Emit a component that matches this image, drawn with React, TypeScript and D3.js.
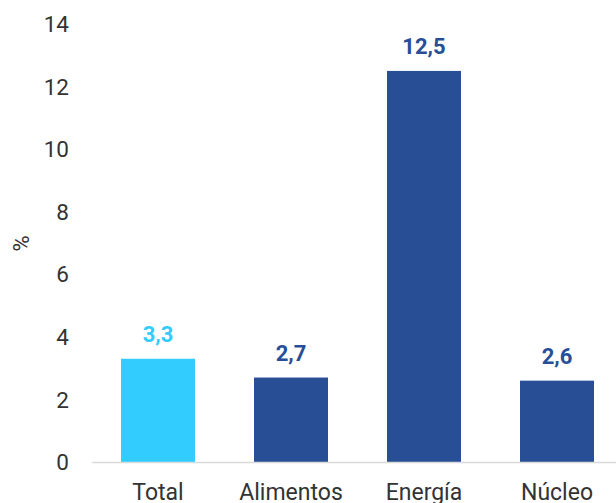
import React from "react";
import * as d3 from "d3";

const categories = ["Total", "Alimentos", "Energía", "Núcleo"];
const values = [3.3, 2.7, 12.5, 2.6];
const valueLabels = ["3,3", "2,7", "12,5", "2,6"];
const barColors = ["#33CCFF", "#284F96", "#284F96", "#284F96"];
const yTicks = [0, 2, 4, 6, 8, 10, 12, 14];

const W = 616;
const H = 503;
const FONT = "Roboto, 'Noto Sans', sans-serif";

export default function App() {
  const y = d3.scaleLinear().domain([0, 14]).range([462, 24]);
  const x = d3
    .scaleBand<string>()
    .domain(categories)
    .range([91.5, 623.5])
    .paddingInner(0.4436)
    .paddingOuter(0.2218);

  return (
    <svg
      width={W}
      height={H}
      style={{ position: "absolute", left: 0, top: 0, background: "#fff" }}
      fontFamily={FONT}
    >
      {yTicks.map((t) => (
        <text
          key={t}
          x={69}
          y={y(t)}
          dy="0.36em"
          textAnchor="end"
          fontSize={22.5}
          fill="#333333"
        >
          {t}
        </text>
      ))}
      <text
        transform={`translate(28.5,243.5) rotate(-90)`}
        textAnchor="middle"
        fontSize={22}
        fill="#333333"
      >
        %
      </text>
      {categories.map((c, i) => (
        <rect
          key={c}
          x={x(c)}
          y={y(values[i])}
          width={x.bandwidth()}
          height={y(0) - y(values[i])}
          fill={barColors[i]}
        />
      ))}
      <line x1={92} x2={616} y1={y(0) + 0.5} y2={y(0) + 0.5} stroke="#DADADA" strokeWidth={1.5} />
      {categories.map((c, i) => (
        <text
          key={"v" + c}
          x={(x(c) as number) + x.bandwidth() / 2}
          y={y(values[i]) - 17}
          textAnchor="middle"
          fontSize={22}
          fontWeight="bold"
          fill={barColors[i]}
        >
          {valueLabels[i]}
        </text>
      ))}
      {categories.map((c) => (
        <text
          key={"c" + c}
          x={(x(c) as number) + x.bandwidth() / 2}
          y={500}
          textAnchor="middle"
          fontSize={23}
          fill="#333333"
        >
          {c}
        </text>
      ))}
    </svg>
  );
}
